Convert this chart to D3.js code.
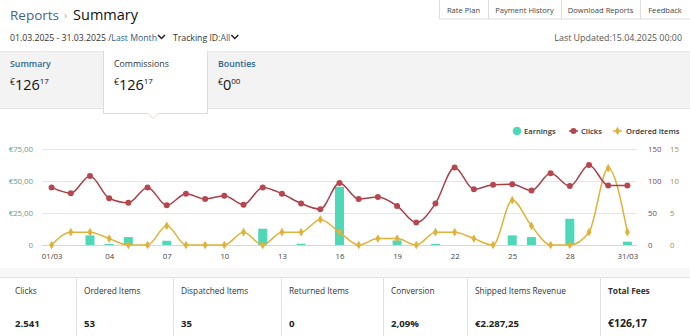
<!DOCTYPE html>
<html><head><meta charset="utf-8">
<script src="https://cdn.jsdelivr.net/npm/d3@7"></script>
<style>
body{margin:0;background:#fff;font-family:"Open Sans",sans-serif;}
svg{display:block;}
</style></head>
<body><svg id="c" width="690" height="336"></svg>
<script>
const days = ["01","02","03","04","05","06","07","08","09","10","11","12","13","14","15","16","17","18","19","20","21","22","23","24","25","26","27","28","29","30","31"];
const tickLabels = {"01":"01/03","04":"04","07":"07","10":"10","13":"13","16":"16","19":"19","22":"22","25":"25","28":"28","31":"31/03"};
const earnings = [0,0,7.5,0.8,6.2,0,3.3,0,0,0,0,12.7,0,1.0,0,45.5,0,0,3.6,0,0.8,0,0,0,7.5,6.2,0,20.5,0,0,2.6];
const clicks = [90,81,108,73,66,90,62,80,72,77,63,90,80,65,56,97,72,75,61,35,65,121,87,94,95,85,112,92,125,93,93];
const ordered = [0,2,2,1,0,0,3,0,0,0,2,0,2,2,4,2,0,1,1,0,2,2,1,0,7,3,0,0,2,12,2];
const leftTicks = [0,25,50,75];
const leftTickLabels = ["0","€25,00","€50,00","€75,00"];
const clickTicks = [0,50,100,150];
const orderTicks = [0,5,10,15];
const navItems = ["Rate Plan","Payment History","Download Reports","Feedback"];
const tabs = [{name:"Summary",big:"126",small:"17",active:false},{name:"Commissions",big:"126",small:"17",active:true},{name:"Bounties",big:"0",small:"00",active:false}];
const statLabels = ["Clicks","Ordered Items","Dispatched Items","Returned Items","Conversion","Shipped Items Revenue","Total Fees"];
const statValues = ["2.541","53","35","0","2,09%","€2.287,25","€126,17"];

const svg = d3.select("#c");
const F = "Open Sans";

// ---- header
const h = svg.append("text").attr("x",10).attr("y",20).attr("font-size",13.5).attr("font-family",F);
h.append("tspan").attr("fill","#3f6786").text("Reports");
h.append("tspan").attr("fill","#aaa").attr("font-size",10).attr("dx",5).attr("dy",-1).text("›");
h.append("tspan").attr("fill","#111").attr("font-size",14.5).attr("dx",6).attr("dy",1).text("Summary");

// nav buttons
const navX = [439,488,561,640,690];
svg.append("rect").attr("x",439.5).attr("y",-1).attr("width",251).attr("height",20).attr("fill","#fff").attr("stroke","#ddd");
navItems.forEach((t,i)=>{
  if(i>0) svg.append("line").attr("x1",navX[i]+0.5).attr("x2",navX[i]+0.5).attr("y1",0).attr("y2",19).attr("stroke","#ddd");
  svg.append("text").attr("x",(navX[i]+navX[i+1])/2).attr("y",12.5).attr("text-anchor","middle").attr("font-size",7.6).attr("fill","#444").attr("font-family",F).text(t);
});

// date line
const chev = (x,y)=>svg.append("path").attr("d",`M${x},${y} l3.5,3.5 l3.5,-3.5`).attr("fill","none").attr("stroke","#222").attr("stroke-width",1.5);
const d1 = svg.append("text").attr("x",10).attr("y",41).attr("font-size",8.7).attr("font-family",F);
d1.append("tspan").attr("fill","#333").text("01.03.2025 - 31.03.2025 /");
d1.append("tspan").attr("fill","#2d5e86").text("Last Month");
chev(10+d1.node().getComputedTextLength()+1,35);
const d2 = svg.append("text").attr("x",173).attr("y",41).attr("font-size",8.7).attr("font-family",F);
d2.append("tspan").attr("fill","#333").text("Tracking ID:");
d2.append("tspan").attr("fill","#2d5e86").text("All");
chev(173+d2.node().getComputedTextLength()+1,35);
svg.append("text").attr("x",682).attr("y",41).attr("text-anchor","end").attr("font-size",8.9).attr("fill","#555").attr("font-family",F).text("Last Updated:15.04.2025 00:00");

// tabs band
svg.append("rect").attr("x",0).attr("y",51).attr("width",690).attr("height",58).attr("fill","#f3f3f3");
svg.append("line").attr("x1",0).attr("x2",690).attr("y1",51.5).attr("y2",51.5).attr("stroke","#e8e8e8");
svg.append("line").attr("x1",0).attr("x2",690).attr("y1",108.5).attr("y2",108.5).attr("stroke","#e4e4e4");
svg.append("path").attr("d","M103.5,51 V113.5 H148 L153,118.5 L158,113.5 H207.5 V51").attr("fill","#fff").attr("stroke","#e6dcbf");
const tabX = [10,114,218];
tabs.forEach((t,i)=>{
  svg.append("text").attr("x",tabX[i]).attr("y",67).attr("font-size",8.8).attr("font-weight",t.active?400:600)
    .attr("fill",t.active?"#333":"#2b6592").attr("font-family",F).text(t.name);
  const v = svg.append("text").attr("x",tabX[i]).attr("y",90).attr("fill","#111").attr("font-family",F);
  v.append("tspan").attr("font-size",8.5).attr("dy",-5).text("€");
  v.append("tspan").attr("font-size",14.5).attr("dy",5).text(t.big);
  v.append("tspan").attr("font-size",8).attr("dy",-6).text(t.small);
});

// ---- chart
const x = d3.scalePoint().domain(days).range([42,637]).padding(0.5);
const yL = d3.scaleLinear().domain([0,75]).range([245,149]);
const yC = d3.scaleLinear().domain([0,150]).range([245,149]);
const yO = d3.scaleLinear().domain([0,15]).range([245,149]);

const g = svg.append("g");
leftTicks.forEach(v=>{
  g.append("line").attr("x1",42).attr("x2",637).attr("y1",Math.round(yL(v))+0.5).attr("y2",Math.round(yL(v))+0.5).attr("stroke",v===0?"#d6d6d6":"#e6e6e6");
});
const axL = d3.axisLeft(yL).tickValues(leftTicks).tickFormat((d,i)=>leftTickLabels[i]).tickSize(0).tickPadding(0);
const gL = svg.append("g").attr("transform","translate(33,0)").call(axL);
gL.select(".domain").remove();
gL.selectAll("text").attr("font-size",7.8).attr("fill","#5e9c8c").attr("font-family",F);
const axC = d3.axisRight(yC).tickValues(clickTicks).tickSize(0).tickPadding(0);
const gC = svg.append("g").attr("transform","translate(648,0)").call(axC);
gC.select(".domain").remove();
gC.selectAll("text").attr("font-size",7.8).attr("fill","#7d4450").attr("font-family",F);
const axO = d3.axisRight(yO).tickValues(orderTicks).tickSize(0).tickPadding(0);
const gO = svg.append("g").attr("transform","translate(670,0)").call(axO);
gO.select(".domain").remove();
gO.selectAll("text").attr("font-size",7.8).attr("fill","#a38f45").attr("font-family",F);

const axX = d3.axisBottom(x).tickValues(Object.keys(tickLabels)).tickFormat(d=>tickLabels[d]).tickSize(0).tickPadding(7);
const gX = svg.append("g").attr("transform","translate(0,246)").call(axX);
gX.select(".domain").remove();
gX.selectAll("text").attr("font-size",7.8).attr("fill","#444").attr("font-family",F);

// bars
const bw = 9;
svg.append("g").selectAll("rect").data(earnings.map((v,i)=>({d:days[i],v})).filter(o=>o.v>0)).join("rect")
  .attr("x",o=>x(o.d)-bw/2).attr("width",bw).attr("y",o=>yL(o.v)).attr("height",o=>yL(0)-yL(o.v))
  .attr("fill","#4fd8b8");

const clickColor = "#a8404b", ordColor = "#dfb23a";
svg.append("path").datum(ordered).attr("fill","none").attr("stroke",ordColor).attr("stroke-width",1.5)
  .attr("d",d3.line().x((d,i)=>x(days[i])).y(d=>yO(d)).curve(d3.curveMonotoneX));
svg.append("path").datum(clicks).attr("fill","none").attr("stroke",clickColor).attr("stroke-width",1.5)
  .attr("d",d3.line().x((d,i)=>x(days[i])).y(d=>yC(d)).curve(d3.curveMonotoneX));
svg.append("g").selectAll("path").data(ordered).join("path")
  .attr("transform",(d,i)=>`translate(${x(days[i])},${yO(d)})`)
  .attr("d",d3.symbol(d3.symbolDiamond,22)).attr("fill",ordColor);
svg.append("g").selectAll("circle").data(clicks).join("circle")
  .attr("cx",(d,i)=>x(days[i])).attr("cy",d=>yC(d)).attr("r",3).attr("fill","#b7474f");

// legend
const ly = 131, LF = 7.6;
svg.append("circle").attr("cx",517).attr("cy",ly).attr("r",4.3).attr("fill","#4fd8b8");
svg.append("text").attr("x",524).attr("y",ly+3).attr("font-size",LF).attr("font-weight",600).attr("fill","#333").attr("font-family",F).text("Earnings");
svg.append("line").attr("x1",569).attr("x2",578).attr("y1",ly).attr("y2",ly).attr("stroke",clickColor).attr("stroke-width",1.5);
svg.append("circle").attr("cx",573.5).attr("cy",ly).attr("r",3).attr("fill","#b7474f");
svg.append("text").attr("x",581).attr("y",ly+3).attr("font-size",LF).attr("font-weight",600).attr("fill","#333").attr("font-family",F).text("Clicks");
svg.append("line").attr("x1",613).attr("x2",622).attr("y1",ly).attr("y2",ly).attr("stroke",ordColor).attr("stroke-width",1.5);
svg.append("path").attr("transform",`translate(617.5,${ly})`).attr("d",d3.symbol(d3.symbolDiamond,22)).attr("fill",ordColor);
svg.append("text").attr("x",626).attr("y",ly+3).attr("font-size",LF).attr("font-weight",600).attr("fill","#333").attr("font-family",F).text("Ordered Items");

// ---- stats table
svg.append("rect").attr("x",0).attr("y",268).attr("width",690).attr("height",9).attr("fill","#f8f8f8");
svg.append("line").attr("x1",0).attr("x2",690).attr("y1",277.5).attr("y2",277.5).attr("stroke","#e2e2e2");
const colX = [0,76,173,281,383,467,600,690];
statLabels.forEach((t,i)=>{
  if(i>0) svg.append("line").attr("x1",colX[i]+0.5).attr("x2",colX[i]+0.5).attr("y1",277).attr("y2",336).attr("stroke","#e2e2e2");
  svg.append("text").attr("x",colX[i]+(i===0?15:8)).attr("y",294).attr("font-size",8.3).attr("font-weight",i===6?700:400)
    .attr("fill","#333").attr("font-family",F).text(t);
  svg.append("text").attr("x",colX[i]+(i===0?15:8)).attr("y",327).attr("font-size",i===6?10.5:9.6).attr("font-weight",700)
    .attr("fill","#222").attr("font-family",F).text(statValues[i]);
});
</script></body></html>
